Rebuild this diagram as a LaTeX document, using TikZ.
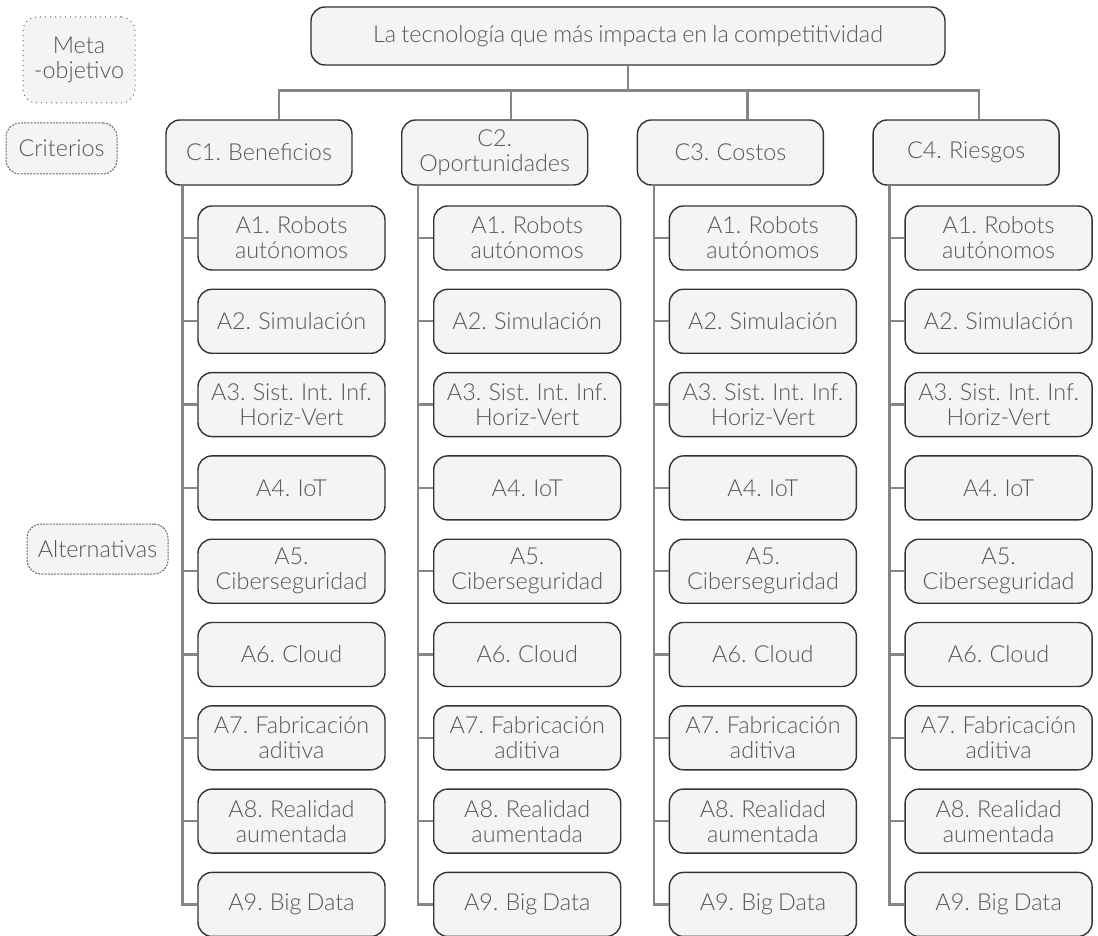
\documentclass[tikz,border=0pt]{standalone}
\usepackage{fontspec}
\setmainfont{Lato Light}[WordSpace=0.8]
\usetikzlibrary{positioning}
\definecolor{boxfill}{HTML}{F4F4F4}
\definecolor{boxline}{HTML}{333333}
\definecolor{txtgray}{HTML}{555555}
\definecolor{linkgray}{HTML}{858585}

\tikzset{
  box/.style={draw=boxline, fill=boxfill, rounded corners=7pt, line width=0.7pt,
    text=txtgray, align=center, inner sep=2pt,
    font=\fontsize{11.7}{12.5}\selectfont},
  goalbox/.style={box, minimum width=317pt, minimum height=29pt},
  critbox/.style={box, minimum width=93pt, minimum height=32.5pt},
  altbox/.style={box, minimum width=93.5pt, minimum height=32pt},
  tagbox/.style={box, draw=boxline!75, line width=0.5pt},
  link/.style={draw=linkgray, line width=1.2pt},
}

\begin{document}
\begin{tikzpicture}[x=0.5pt, y=-0.5pt]
\useasboundingbox (0,0) rectangle (1098,936);

% level labels
\node[tagbox, dotted, minimum width=56pt, minimum height=43pt] (lmeta) at (79,60) {Meta\\-objetivo};
\node[tagbox, dash pattern=on 1pt off 0.6pt, minimum width=55.5pt, minimum height=25.5pt] (lcrit) at (61.5,148.5) {Criterios};
\node[tagbox, dash pattern=on 1pt off 0.6pt, minimum width=70.5pt, minimum height=25pt] (lalt) at (97.5,549) {Alternativas};

% goal
\node[goalbox] (goal) at (628,36) {La tecnología que más impacta en la competitividad};

% criteria and alternatives
\foreach \i/\crit/\off in {1/{C1. Beneficios}/20, 2/{C2.\\Oportunidades}/16, 3/{C3. Costos}/17, 4/{C4. Riesgos}/13} {
  \node[critbox] (c\i) at ({259+235.7*(\i-1)},152.5) {\crit};
  \draw[link] (goal.south) -- ++(0,25) -| ([xshift=\off*0.5pt]c\i.north);
  \foreach \j/\alt in {1/{A1. Robots\\autónomos}, 2/{A2. Simulación},
      3/{A3. Sist. Int. Inf.\\Horiz-Vert}, 4/{A4. IoT}, 5/{A5.\\Ciberseguridad},
      6/{A6. Cloud}, 7/{A7. Fabricación\\aditiva}, 8/{A8. Realidad\\aumentada},
      9/{A9. Big Data}} {
    \node[altbox] (a\i-\j) at ({291.5+235.7*(\i-1)},{238+83.3*(\j-1)}) {\alt};
  }
  \draw[link] (c\i.south west) ++(17,0) |- (a\i-9.west);
  \foreach \j in {1,...,8}
    \draw[link] (a\i-\j.west) -- ++(-15,0);
}

\end{tikzpicture}
\end{document}
